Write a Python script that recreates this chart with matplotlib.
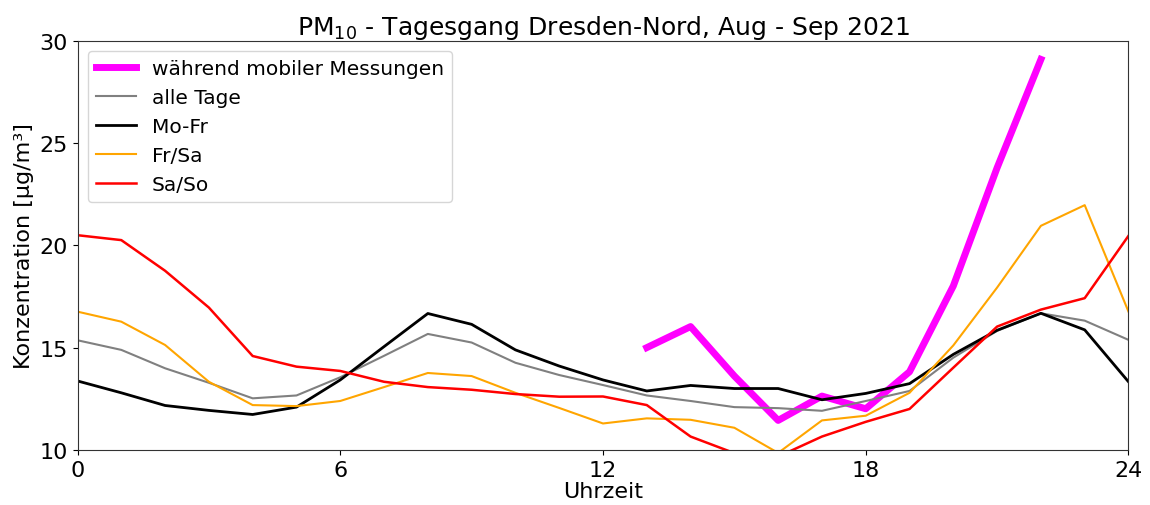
import numpy as np
import matplotlib.pyplot as plt

# hourly mean PM10, Dresden-Nord, Aug - Sep 2021
hours = list(range(25))
mobile_hours = list(range(13, 23))
mobile = [15.0, 16.03, 13.61, 11.44, 12.63, 12.01, 13.82, 18.02, 23.8, 29.1]
alle_tage = [15.36, 14.89, 13.99, 13.28, 12.52, 12.66, 13.55, 14.6, 15.67, 15.25,
             14.26, 13.66, 13.17, 12.66, 12.39, 12.09, 12.04, 11.91, 12.39, 12.88,
             14.51, 15.82, 16.68, 16.32, 15.38]
mo_fr = [13.37, 12.79, 12.17, 11.93, 11.73, 12.09, 13.42, 15.05, 16.67, 16.14,
         14.89, 14.1, 13.42, 12.88, 13.15, 13.0, 13.0, 12.45, 12.76, 13.24,
         14.67, 15.85, 16.68, 15.87, 13.33]
fr_sa = [16.76, 16.27, 15.13, 13.33, 12.19, 12.14, 12.39, 13.07, 13.76, 13.61,
         12.79, 12.05, 11.29, 11.54, 11.47, 11.08, 9.85, 11.44, 11.67, 12.79,
         15.11, 17.94, 20.96, 21.97, 16.76]
sa_so = [20.5, 20.26, 18.76, 16.96, 14.59, 14.07, 13.86, 13.33, 13.07, 12.94,
         12.73, 12.6, 12.61, 12.19, 10.65, 9.84, 9.67, 10.65, 11.37, 12.0,
         14.02, 16.03, 16.86, 17.42, 20.47]

fig = plt.figure(figsize=(11.5, 5.06), dpi=100)
ax = fig.add_axes([0.0674, 0.109, 0.9139, 0.808])

ax.plot(mobile_hours, mobile, color='magenta', linewidth=5, label='während mobiler Messungen')
ax.plot(hours, alle_tage, color='grey', linewidth=1.5, label='alle Tage')
ax.plot(hours, mo_fr, color='black', linewidth=2, label='Mo-Fr')
ax.plot(hours, fr_sa, color='orange', linewidth=1.5, label='Fr/Sa')
ax.plot(hours, sa_so, color='red', linewidth=1.8, label='Sa/So')

ax.set_xlim(0, 24)
ax.set_ylim(10, 30)
ax.set_xticks([0, 6, 12, 18, 24])
ax.set_yticks([10, 15, 20, 25, 30])
ax.tick_params(labelsize=16)
for sp in ax.spines.values():
    sp.set_color('#333333')
ax.set_xlabel('Uhrzeit', fontsize=16, labelpad=1)
ax.set_ylabel('Konzentration [µg/m³]', fontsize=16)
ax.set_title('PM$_{10}$ - Tagesgang Dresden-Nord, Aug - Sep 2021', fontsize=18, pad=5)
ax.legend(loc='upper left', fontsize=14.5)

fig.savefig('out.png', dpi=100)
